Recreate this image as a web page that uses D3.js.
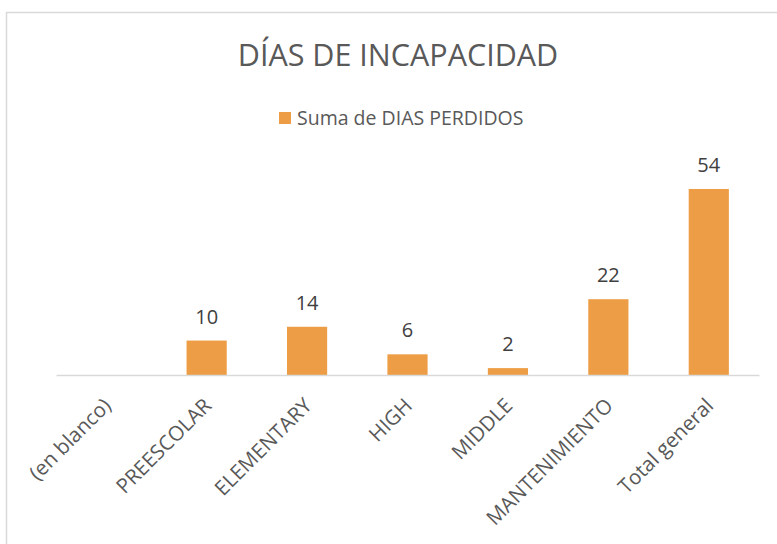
<!DOCTYPE html>
<html>
<head>
<meta charset="utf-8">
<script src="https://cdn.jsdelivr.net/npm/d3@7"></script>
<style>
  body { margin: 0; background: #fff; }
  text { font-family: "Open Sans", sans-serif; }
</style>
</head>
<body>
<script>
// data
let categories = ["(en blanco)", "PREESCOLAR", "ELEMENTARY", "HIGH", "MIDDLE", "MANTENIMIENTO", "Total general"];
let diasPerdidos = [null, 10, 14, 6, 2, 22, 54];
let seriesName = "Suma de DIAS PERDIDOS";
let chartTitle = "DÍAS DE INCAPACIDAD";

let width = 777, height = 544;

let svg = d3.select("body")
            .append("svg")
            .attr("width", width)
            .attr("height", height);

// chart area border (runs off the right and bottom edge)
svg.append("rect")
    .attr("x", 6.5).attr("y", 12.5)
    .attr("width", 820).attr("height", 600)
    .attr("fill", "none")
    .attr("stroke", "#d9d9d9")
    .attr("stroke-width", 1.5);

let data = categories.map((c, i) => ({cat: c, value: diasPerdidos[i]}));

let xScale = d3.scaleBand()
    .domain(categories)
    .range([56, 759])
    .paddingInner(0.6)
    .paddingOuter(0.3);

let yScale = d3.scaleLinear()
    .domain([0, 60])
    .range([375, 168.3]);

// title
svg.append("text")
    .attr("x", 398).attr("y", 66)
    .attr("text-anchor", "middle")
    .attr("fill", "#595959")
    .style("font-size", "30.5px")
    .text(chartTitle);

// legend
let legend = svg.append("g");
legend.append("rect")
    .attr("x", 279).attr("y", 112)
    .attr("width", 12).attr("height", 12)
    .attr("fill", "#ED9D45");
legend.append("text")
    .attr("x", 297).attr("y", 124.5)
    .attr("fill", "#595959")
    .style("font-size", "19.5px")
    .text(seriesName);

// bars
svg.selectAll("rect.bar")
    .data(data.filter(d => d.value != null))
    .enter()
    .append("rect")
        .attr("class", "bar")
        .attr("fill", "#ED9D45")
        .attr("x", d => xScale(d.cat))
        .attr("width", xScale.bandwidth())
        .attr("y", d => yScale(d.value))
        .attr("height", d => yScale(0) - yScale(d.value));

// data labels
svg.selectAll("text.lbl")
    .data(data.filter(d => d.value != null))
    .enter()
    .append("text")
        .attr("class", "lbl")
        .attr("x", d => xScale(d.cat) + xScale.bandwidth() / 2)
        .attr("y", d => yScale(d.value) - 17)
        .attr("text-anchor", "middle")
        .attr("fill", "#404040")
        .style("font-size", "20px")
        .text(d => d.value);

// x axis
let xAxis = d3.axisBottom(xScale).tickSize(0).tickSizeOuter(0);

let gx = svg.append("g")
    .attr("transform", "translate(0," + yScale(0) + ")")
    .call(xAxis);

gx.select(".domain")
    .attr("stroke", "#d9d9d9")
    .attr("stroke-width", 1.5);

gx.selectAll(".tick text")
    .attr("fill", "#595959")
    .style("font-family", "'Open Sans', sans-serif")
    .style("font-size", "20.5px")
    .attr("text-anchor", "end")
    .attr("x", 0).attr("y", 0).attr("dy", 0)
    .attr("transform", "translate(6,32) rotate(-45)");
</script>
</body>
</html>
